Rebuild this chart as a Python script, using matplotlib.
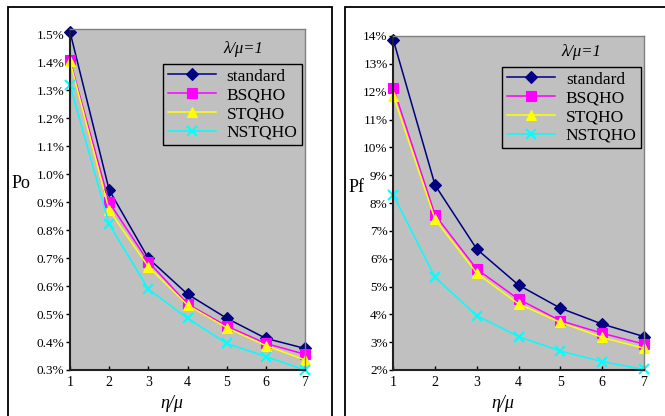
import matplotlib
matplotlib.use("Agg")
import matplotlib.pyplot as plt
from matplotlib.patches import Rectangle
from matplotlib.ticker import FuncFormatter, MultipleLocator

plt.rcParams['font.family'] = ['Liberation Serif', 'DejaVu Serif']
plt.rcParams['mathtext.fontset'] = 'stix'

eta_mu = [1, 2, 3, 4, 5, 6, 7]
series_names = ["standard", "BSQHO", "STQHO", "NSTQHO"]

# Po (%) versus eta/mu
po_standard = [1.508, 0.943, 0.699, 0.571, 0.485, 0.413, 0.377]
po_bsqho = [1.407, 0.899, 0.687, 0.536, 0.457, 0.395, 0.356]
po_stqho = [1.402, 0.871, 0.669, 0.532, 0.451, 0.387, 0.336]
po_nstqho = [1.318, 0.821, 0.589, 0.485, 0.395, 0.348, 0.300]

# Pf (%) versus eta/mu
pf_standard = [13.86, 8.64, 6.34, 5.05, 4.22, 3.65, 3.20]
pf_bsqho = [12.14, 7.57, 5.62, 4.54, 3.77, 3.32, 2.93]
pf_stqho = [11.86, 7.41, 5.47, 4.37, 3.71, 3.17, 2.78]
pf_nstqho = [8.29, 5.33, 3.95, 3.20, 2.68, 2.30, 2.02]

colors = ["#000080", "#FF00FF", "#FFFF00", "#00FFFF"]
markers = ["D", "s", "^", "x"]
msizes = [6, 7, 7.5, 7]

W, H = 665, 416
fig = plt.figure(figsize=(W / 100, H / 100), dpi=100)
fig.patch.set_facecolor("white")


def fx(px):
    return px / W


def fy(py):
    return 1 - py / H


# outer panel frames
for (x0, x1) in [(8, 332), (345, 672)]:
    fig.patches.append(Rectangle((fx(x0), fy(425)), fx(x1) - fx(x0), fy(7) - fy(425),
                                 transform=fig.transFigure, fill=False,
                                 edgecolor="black", linewidth=1.3, zorder=0))


def panel(rect, data, ylim, ystep, fmt, ylabel, ylabel_pos, xlabel_pos, leg_anchor, note_pos):
    ax = fig.add_axes(rect)
    ax.set_facecolor("#C0C0C0")
    for vals, name, c, m, ms in zip(data, series_names, colors, markers, msizes):
        ax.plot(eta_mu, vals, color=c, marker=m, markersize=ms, linewidth=1.1,
                markeredgewidth=1.5 if m == "x" else 0.8, label=name, clip_on=False)
    ax.set_xlim(1, 7)
    ax.set_ylim(*ylim)
    ax.yaxis.set_major_locator(MultipleLocator(ystep))
    ax.yaxis.set_major_formatter(FuncFormatter(lambda v, p: fmt % v))
    ax.set_xticks(eta_mu)
    ax.tick_params(axis="y", direction="out", length=3, width=1, labelsize=9.5, pad=1)
    ax.tick_params(axis="x", direction="in", length=3, width=1, labelsize=10, pad=4)
    for s in ["left", "bottom"]:
        ax.spines[s].set_color("#202020")
        ax.spines[s].set_linewidth(1.5)
    for s in ["top", "right"]:
        ax.spines[s].set_color("#808080")
        ax.spines[s].set_linewidth(1.0)
    leg = ax.legend(loc="upper right", bbox_to_anchor=leg_anchor, borderaxespad=0,
                    fontsize=12.5, frameon=True, fancybox=False, framealpha=1,
                    facecolor="#C0C0C0", edgecolor="black", handlelength=2.8,
                    labelspacing=0.15, borderpad=0.25, handletextpad=0.6)
    leg.get_frame().set_linewidth(1.0)
    ax.text(note_pos[0], note_pos[1], "λ/μ=1", transform=ax.transAxes, ha="center",
            va="center", fontsize=12, style="italic")
    fig.text(fx(ylabel_pos[0]), fy(ylabel_pos[1]), ylabel, ha="center", va="center",
             fontsize=13)
    fig.text(fx(xlabel_pos[0]), fy(xlabel_pos[1]), "η/μ", ha="center", va="center",
             fontsize=13, style="italic")
    return ax


panel([fx(70), fy(370), fx(305) - fx(70), fy(29.3) - fy(370)],
      [po_standard, po_bsqho, po_stqho, po_nstqho], (0.3, 1.517), 0.1, "%.1f%%",
      "Po", (21, 183), (172, 403), (0.987, 0.898), (0.736, 0.942))

panel([fx(393.3), fy(370), fx(644) - fx(393.3), fy(36) - fy(370)],
      [pf_standard, pf_bsqho, pf_stqho, pf_nstqho], (2, 14), 1, "%.0f%%",
      "Pf", (357, 188), (503, 403), (0.988, 0.907), (0.749, 0.953))

fig.savefig("out.png", dpi=100)
